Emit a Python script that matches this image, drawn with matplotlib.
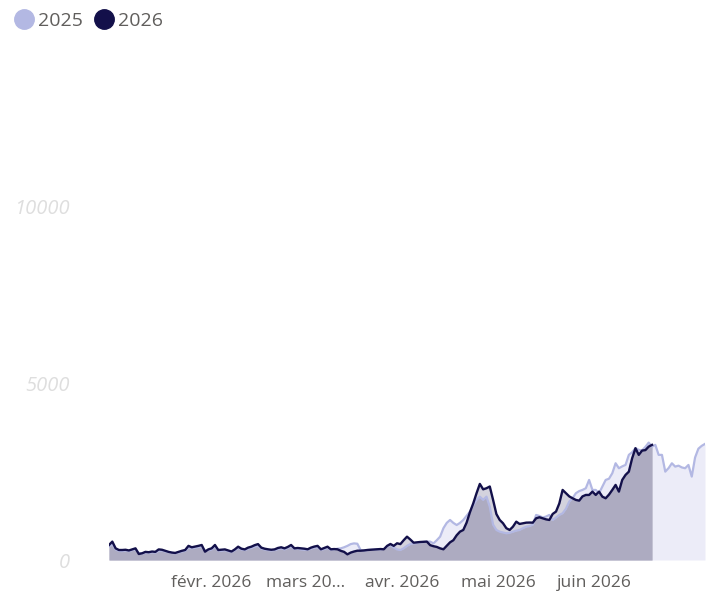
import matplotlib
matplotlib.use("Agg")
import matplotlib.pyplot as plt
from matplotlib.lines import Line2D
import numpy as np

# ---- data (daily values, Jan 1 .. ) ----
series_names = ["2025", "2026"]

values_2025 = [
    380, 450, 300, 260, 250, 270, 250, 280, 300, 200,
    180, 210, 200, 220, 210, 260, 270, 240, 220, 200,
    190, 210, 240, 260, 350, 330, 350, 370, 380, 260,
    280, 300, 380, 270, 260, 280, 250, 230, 280, 340,
    300, 280, 320, 340, 380, 400, 320, 300, 280, 270,
    280, 310, 330, 300, 340, 380, 310, 320, 300, 290,
    290, 320, 350, 360, 290, 310, 340, 290, 300, 320,
    330, 360, 400, 450, 470, 460, 280, 270, 280, 290,
    290, 300, 300, 310, 380, 420, 350, 300, 283, 330,
    400, 450, 470, 480, 500, 510, 520, 520, 470, 560,
    660, 900, 1050, 1133, 1050, 990, 1050, 1133, 1250, 1368,
    1550, 1700, 1793, 1700, 1793, 1510, 1000, 850, 802, 780,
    756, 770, 800, 830, 850, 900, 943, 960, 1000, 1275,
    1246, 1200, 1230, 1275, 1133, 1200, 1275, 1322, 1450, 1652,
    1750, 1889, 1950, 1983, 2030, 2266, 1983, 1983, 1889, 2077,
    2266, 2300, 2455, 2738, 2597, 2650, 2691, 2975, 3050, 3164,
    3116, 3100, 3200, 3323, 3210, 3258, 2975, 2975, 2501, 2600,
    2738, 2643, 2670, 2620, 2597, 2690, 2360, 2900, 3150, 3230,
    3286,
]

values_2026 = [
    425, 520, 330, 283, 283, 290, 270, 300, 330, 170,
    190, 230, 220, 240, 230, 300, 290, 260, 230, 210,
    200, 230, 260, 283, 400, 360, 380, 400, 425, 235,
    300, 330, 425, 283, 290, 300, 270, 240, 300, 377,
    320, 300, 350, 377, 420, 450, 350, 320, 303, 290,
    300, 340, 360, 330, 370, 425, 330, 340, 330, 320,
    303, 350, 380, 400, 303, 340, 377, 303, 310, 303,
    260, 230, 160, 210, 240, 263, 263, 270, 283, 290,
    300, 303, 310, 303, 400, 453, 400, 473, 450, 560,
    660, 580, 490, 500, 510, 515, 520, 420, 390, 370,
    330, 303, 400, 500, 560, 700, 802, 850, 1057, 1350,
    1600, 1889, 2153, 2000, 2031, 2080, 1700, 1300, 1133, 1040,
    900, 850, 943, 1085, 1020, 1040, 1057, 1060, 1057, 1181,
    1209, 1180, 1150, 1133, 1303, 1370, 1600, 1983, 1890, 1800,
    1747, 1700, 1680, 1800, 1841, 1841, 1935, 1841, 1935, 1793,
    1747, 1850, 1983, 2125, 1935, 2266, 2408, 2500, 2880, 3164,
    2975, 3097, 3110, 3210, 3258,
]

month_labels = ["févr. 2026", "mars 20…", "avr. 2026", "mai 2026", "juin 2026"]
month_label_days = [31, 59.5, 88.5, 117.5, 146.5]
y_ticks = [0, 5000, 10000]

# ---- style ----
c25_line = "#B3B8E3"
c25_fill = "#ECECF8"
c26_line = "#13104A"
c26_fill_only = "#D3D2DD"
c_overlap = "#ADABC1"
label_col = "#605E5C"
ytick_col = "#DEDEDE"
FONT = "Open Sans"

W, H = 711, 596
fig = plt.figure(figsize=(W / 100, H / 100), dpi=100)
left, right, bottom, top = 109, 705, 560, 30
ax = fig.add_axes([left / W, (H - bottom) / H, (right - left) / W, (bottom - top) / H])

x25 = np.arange(len(values_2025))
x26 = np.arange(len(values_2026))
y25 = np.array(values_2025, dtype=float)
y26 = np.array(values_2026, dtype=float)

ax.fill_between(x25, 0, y25, color=c25_fill, lw=0, zorder=1)
ax.fill_between(x26, 0, y26, color=c26_fill_only, lw=0, zorder=2)
ax.fill_between(x26, 0, np.minimum(y26, y25[:len(y26)]), color=c_overlap, lw=0, zorder=3)
ax.plot(x25, y25, color=c25_line, lw=1.6, zorder=4, solid_joinstyle="round")
ax.plot(x26, y26, color=c26_line, lw=1.7, zorder=5, solid_joinstyle="round")

ax.set_xlim(0, len(values_2025) - 1)
ax.set_ylim(0, 15000)

for s in ax.spines.values():
    s.set_visible(False)

ax.set_yticks(y_ticks)
ax.set_yticklabels([str(v) for v in y_ticks], fontfamily=FONT, fontstyle="italic",
                   fontsize=14.5, color=ytick_col)
ax.tick_params(axis="y", length=0, pad=28)

ax.set_xticks(month_label_days)
ax.set_xticklabels(month_labels, fontfamily=FONT, fontsize=12.5, color=label_col)
ax.tick_params(axis="x", length=0, pad=11)

handles = [
    Line2D([], [], marker="o", ls="", ms=14, color=c25_line, label=series_names[0]),
    Line2D([], [], marker="o", ls="", ms=14, color=c26_line, label=series_names[1]),
]
fig.legend(handles=handles, loc="upper left", bbox_to_anchor=(1 / W, 1 - 0 / H),
           ncol=2, frameon=False, handletextpad=0.1, columnspacing=0.5,
           handlelength=1.2, borderaxespad=0.2,
           prop={"family": FONT, "size": 14}, labelcolor=label_col)

fig.savefig("out.png", dpi=100)
